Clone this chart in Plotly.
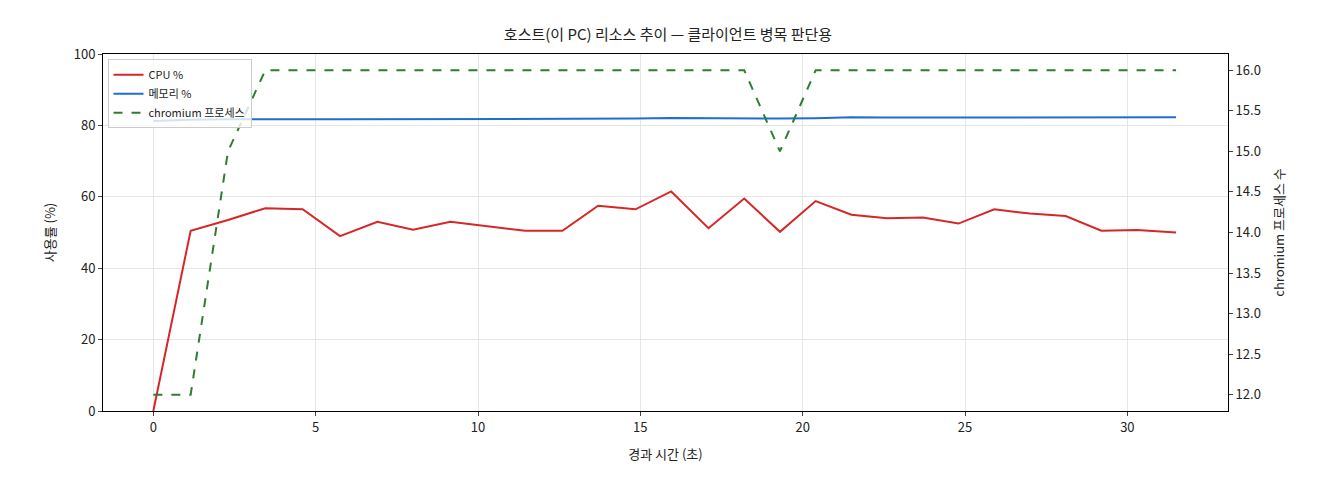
import plotly.graph_objects as go

t = [0, 1.15, 2.3, 3.45, 4.6, 5.75, 6.9, 8.0, 9.15, 10.3, 11.45, 12.6, 13.7, 14.85,
     15.95, 17.1, 18.2, 19.3, 20.4, 21.5, 22.6, 23.7, 24.8, 25.9, 27.0, 28.1, 29.2, 30.3, 31.5]
cpu = [0, 50.5, 53.5, 56.8, 56.5, 49, 53, 50.8, 53, 51.8, 50.5, 50.5, 57.5, 56.5,
       61.5, 51.2, 59.5, 50.2, 58.8, 55, 54, 54.2, 52.5, 56.5, 55.3, 54.6, 50.5, 50.7, 50]
mem = [81.2, 81.6, 81.7, 81.8, 81.7, 81.7, 81.7, 81.7, 81.9, 81.7, 81.7, 81.9, 81.9, 81.9,
       82.1, 82.0, 81.9, 81.9, 82.0, 82.3, 82.2, 82.2, 82.2, 82.2, 82.3, 82.2, 82.2, 82.3, 82.3]
procs = [12, 12, 15, 16, 16, 16, 16, 16, 16, 16, 16, 16, 16, 16,
         16, 16, 16, 15, 16, 16, 16, 16, 16, 16, 16, 16, 16, 16, 16]

fig = go.Figure()
fig.add_trace(go.Scatter(x=t, y=cpu, name="CPU %", mode="lines", line=dict(color="#d62728", width=2)))
fig.add_trace(go.Scatter(x=t, y=mem, name="메모리 %", mode="lines", line=dict(color="#1f6fd1", width=2)))
fig.add_trace(go.Scatter(x=t, y=procs, name="chromium 프로세스", mode="lines", yaxis="y2",
                         line=dict(color="#2e7d32", width=2, dash="dash")))

axis = dict(showline=True, linecolor="black", mirror=True, ticks="outside", ticklen=4,
            gridcolor="#e6e6e6", zeroline=False, automargin=False)
fig.update_layout(
    width=1320, height=480,
    font=dict(family="Noto Sans CJK KR", size=13, color="#222"),
    plot_bgcolor="white", paper_bgcolor="white",
    margin=dict(l=95, r=100, t=46, b=77),
    title=dict(text="호스트(이 PC) 리소스 추이 — 클라이언트 병목 판단용", x=0.5, y=0.955,
               font=dict(size=15), automargin=False),
    xaxis=dict(axis, title=dict(text="경과 시간 (초)", font=dict(size=13)), range=[-1.55, 33.1], dtick=5),
    yaxis=dict(axis, title=dict(text="사용률 (%)", font=dict(size=13)), range=[0, 100], dtick=20),
    yaxis2=dict(showline=False, ticks="outside", ticklen=4, overlaying="y", side="right",
                range=[11.8, 16.2], dtick=0.5, tickformat=".1f", showgrid=False, zeroline=False,
                automargin=False, title=dict(text="chromium 프로세스 수", font=dict(size=13))),
    legend=dict(x=0.004, y=0.985, xanchor="left", yanchor="top", bgcolor="rgba(255,255,255,0.8)",
                bordercolor="#ccc", borderwidth=1, font=dict(size=11)),
)
fig.write_html("out.html")
